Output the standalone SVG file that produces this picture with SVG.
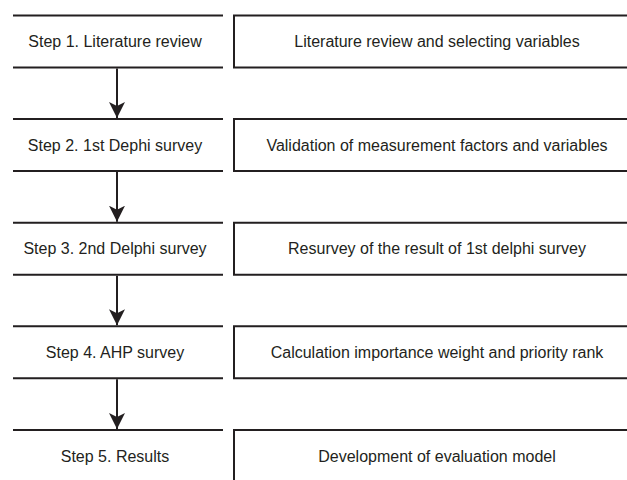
<svg xmlns="http://www.w3.org/2000/svg" width="627" height="480" viewBox="0 0 627 480">
<style>
.ln{stroke:#231f20;stroke-width:2;fill:none}
.t{font-family:"Liberation Sans",Arial,sans-serif;font-size:16px;fill:#231f20;text-anchor:middle}
</style>
<defs>
<marker id="ah" markerUnits="userSpaceOnUse" markerWidth="18" markerHeight="16" refX="16" refY="8" orient="auto">
<path d="M0,0 L16,8 L0,16 L4,8 Z" fill="#231f20"/>
</marker>
</defs>
<rect width="627" height="480" fill="#fff"/>
<g id="step1">
<path class="ln" d="M13,15.5H223M13,67.5H223"/>
<text class="t" x="115" y="47">Step 1. Literature review</text>
</g>
<g id="desc1">
<path class="ln" d="M627,15.5H234V67.5H627"/>
<text class="t" x="437" y="47">Literature review and selecting variables</text>
</g>
<g id="step2">
<path class="ln" d="M13,119H223M13,171H223"/>
<text class="t" x="115" y="150.5">Step 2. 1st Dephi survey</text>
</g>
<g id="desc2">
<path class="ln" d="M627,119H234V171H627"/>
<text class="t" x="437" y="150.5">Validation of measurement factors and variables</text>
</g>
<g id="step3">
<path class="ln" d="M13,222.7H223M13,274.7H223"/>
<text class="t" x="115" y="254.2">Step 3. 2nd Delphi survey</text>
</g>
<g id="desc3">
<path class="ln" d="M627,222.7H234V274.7H627"/>
<text class="t" x="437" y="254.2">Resurvey of the result of 1st delphi survey</text>
</g>
<g id="step4">
<path class="ln" d="M13,326.3H223M13,378.3H223"/>
<text class="t" x="115" y="357.8">Step 4. AHP survey</text>
</g>
<g id="desc4">
<path class="ln" d="M627,326.3H234V378.3H627"/>
<text class="t" x="437" y="357.8">Calculation importance weight and priority rank</text>
</g>
<g id="step5">
<path class="ln" d="M13,430H223"/>
<text class="t" x="115" y="461.5">Step 5. Results</text>
</g>
<g id="desc5">
<path class="ln" d="M627,430H234V482"/>
<text class="t" x="437" y="461.5">Development of evaluation model</text>
</g>
<g id="connectors">
<line class="ln" x1="117" y1="68.5" x2="117" y2="118" marker-end="url(#ah)"/>
<line class="ln" x1="117" y1="172" x2="117" y2="221.7" marker-end="url(#ah)"/>
<line class="ln" x1="117" y1="275.7" x2="117" y2="325.3" marker-end="url(#ah)"/>
<line class="ln" x1="117" y1="379.3" x2="117" y2="429" marker-end="url(#ah)"/>
</g>
</svg>
